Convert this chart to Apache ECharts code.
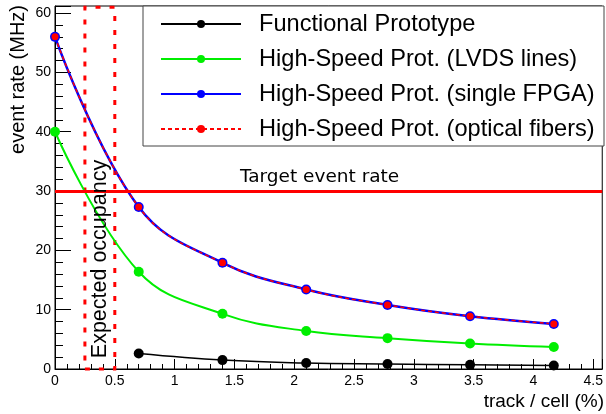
<!DOCTYPE html>
<html>
<head>
<meta charset="utf-8">
<script src="https://cdn.jsdelivr.net/npm/echarts@6/dist/echarts.min.js"></script>
<style>
html, body { margin: 0; padding: 0; background: #fff; }
#main { width: 606px; height: 414px; }
</style>
</head>
<body>
<div id="main"></div>
<script>
// occupancy values (track / cell, %)
const occupancy = [0, 0.7, 1.4, 2.1, 2.78, 3.47, 4.17];
// event rates in MHz, null = no measurement
const functionalProto = [null, 2.6, 1.5, 1.0, 0.85, 0.7, 0.6];
const lvdsLines = [40, 16.4, 9.3, 6.4, 5.2, 4.3, 3.7];
const singleFpga = [56, 27.3, 17.9, 13.4, 10.8, 8.9, 7.6];
const opticalFibers = [56, 27.3, 17.9, 13.4, 10.8, 8.9, 7.6];
const seriesNames = ["Functional Prototype", "High-Speed Prot. (LVDS lines)",
	"High-Speed Prot. (single FPGA)", "High-Speed Prot. (optical fibers)"];
const targetRate = 30;
const expectedOcc = [0.25, 0.5];

function pairs(vals){
	const out = [];
	for(let i = 0; i < occupancy.length; i++){
		if(vals[i] !== null){ out.push([occupancy[i], vals[i]]); }
	}
	return out;
}

const font = "Liberation Sans, Arial, sans-serif";
var mychart = echarts.init(document.getElementById("main"));

const option = {
	animation: false,
	grid: {left: 55, right: 2, top: 6, bottom: 45, show: true, borderColor: "#000", borderWidth: 1},
	xAxis: {
		type: "value", min: 0, max: 4.575, interval: 0.5,
		axisLine: {lineStyle: {color: "#000", width: 1}},
		axisTick: {inside: true, length: 10, lineStyle: {color: "#000"}},
		minorTick: {show: true, splitNumber: 5, length: 5, lineStyle: {color: "#000"}},
		splitLine: {show: false},
		axisLabel: {color: "#000", fontFamily: font, fontSize: 14, margin: 5, showMaxLabel: false}
	},
	yAxis: {
		type: "value", min: 0, max: 61.2, interval: 10,
		axisLine: {show: true, lineStyle: {color: "#000", width: 1}},
		axisTick: {show: true, inside: true, length: 16, lineStyle: {color: "#000"}},
		minorTick: {show: true, splitNumber: 5, length: 8, lineStyle: {color: "#000"}},
		splitLine: {show: false},
		axisLabel: {color: "#000", fontFamily: font, fontSize: 14, margin: 4, showMaxLabel: false}
	},
	legend: {
		orient: "vertical", left: 160, top: 12, padding: 0,
		itemWidth: 80, itemHeight: 10, itemGap: 11, z: 5,
		textStyle: {fontFamily: font, fontSize: 23.6, color: "#000", lineHeight: 24, padding: [0, 0, 0, 13]},
		data: seriesNames
	},
	graphic: [
		{type: "rect", z: 3, shape: {x: 143, y: 6, width: 461, height: 140},
			style: {fill: "#fff", stroke: "#444", lineWidth: 1}},
		{type: "text", x: 100, y: 259, rotation: Math.PI / 2, z: 6,
			style: {text: "Expected occupancy", fontFamily: font, fontSize: 21.5, fill: "#000",
				align: "center", verticalAlign: "middle"}},
		{type: "text", x: 18, y: 5, rotation: Math.PI / 2,
			style: {text: "event rate (MHz)", fontFamily: font, fontSize: 20, fill: "#000",
				align: "right", verticalAlign: "middle"}},
		{type: "text", x: 604, y: 402,
			style: {text: "track / cell (%)", fontFamily: font, fontSize: 19, fill: "#000",
				align: "right", verticalAlign: "middle"}}
	],
	series: [
		{name: seriesNames[0], type: "line", data: pairs(functionalProto), smooth: 0.4,
			symbol: "circle", symbolSize: 10, color: "#000",
			lineStyle: {color: "#000", width: 1.5}, itemStyle: {color: "#000"}},
		{name: seriesNames[1], type: "line", data: pairs(lvdsLines), smooth: 0.4,
			symbol: "circle", symbolSize: 10, color: "#00ee00",
			lineStyle: {color: "#00ee00", width: 2}, itemStyle: {color: "#00ee00"}},
		{name: seriesNames[2], type: "line", data: pairs(singleFpga), smooth: 0.4,
			symbol: "circle", symbolSize: 10, color: "#0000ff",
			lineStyle: {color: "#0000ff", width: 2.5}, itemStyle: {color: "#0000ff"}},
		{name: seriesNames[3], type: "line", data: pairs(opticalFibers), smooth: 0.4,
			symbol: "circle", symbolSize: 7, color: "#ff0000",
			lineStyle: {color: "#ff0000", width: 1.5, type: [4, 3]}, itemStyle: {color: "#ff0000"},
			markLine: {
				silent: true, symbol: "none",
				lineStyle: {color: "#ff0000", width: 3, type: "solid"},
				label: {show: true, position: "insideMiddleTop", distance: 4, offset: [-9, 0],
					formatter: "Target event rate", color: "#000", fontFamily: "DejaVu Sans", fontSize: 18.5},
				data: [{yAxis: targetRate}]
			},
			markArea: {
				silent: true,
				itemStyle: {color: "rgba(0,0,0,0)", borderColor: "#ff0000", borderWidth: 3, borderType: [5, 9]},
				data: [[{xAxis: expectedOcc[0], yAxis: 0}, {xAxis: expectedOcc[1], yAxis: 61}]]
			}
		}
	]
};
mychart.setOption(option);
</script>
</body>
</html>
